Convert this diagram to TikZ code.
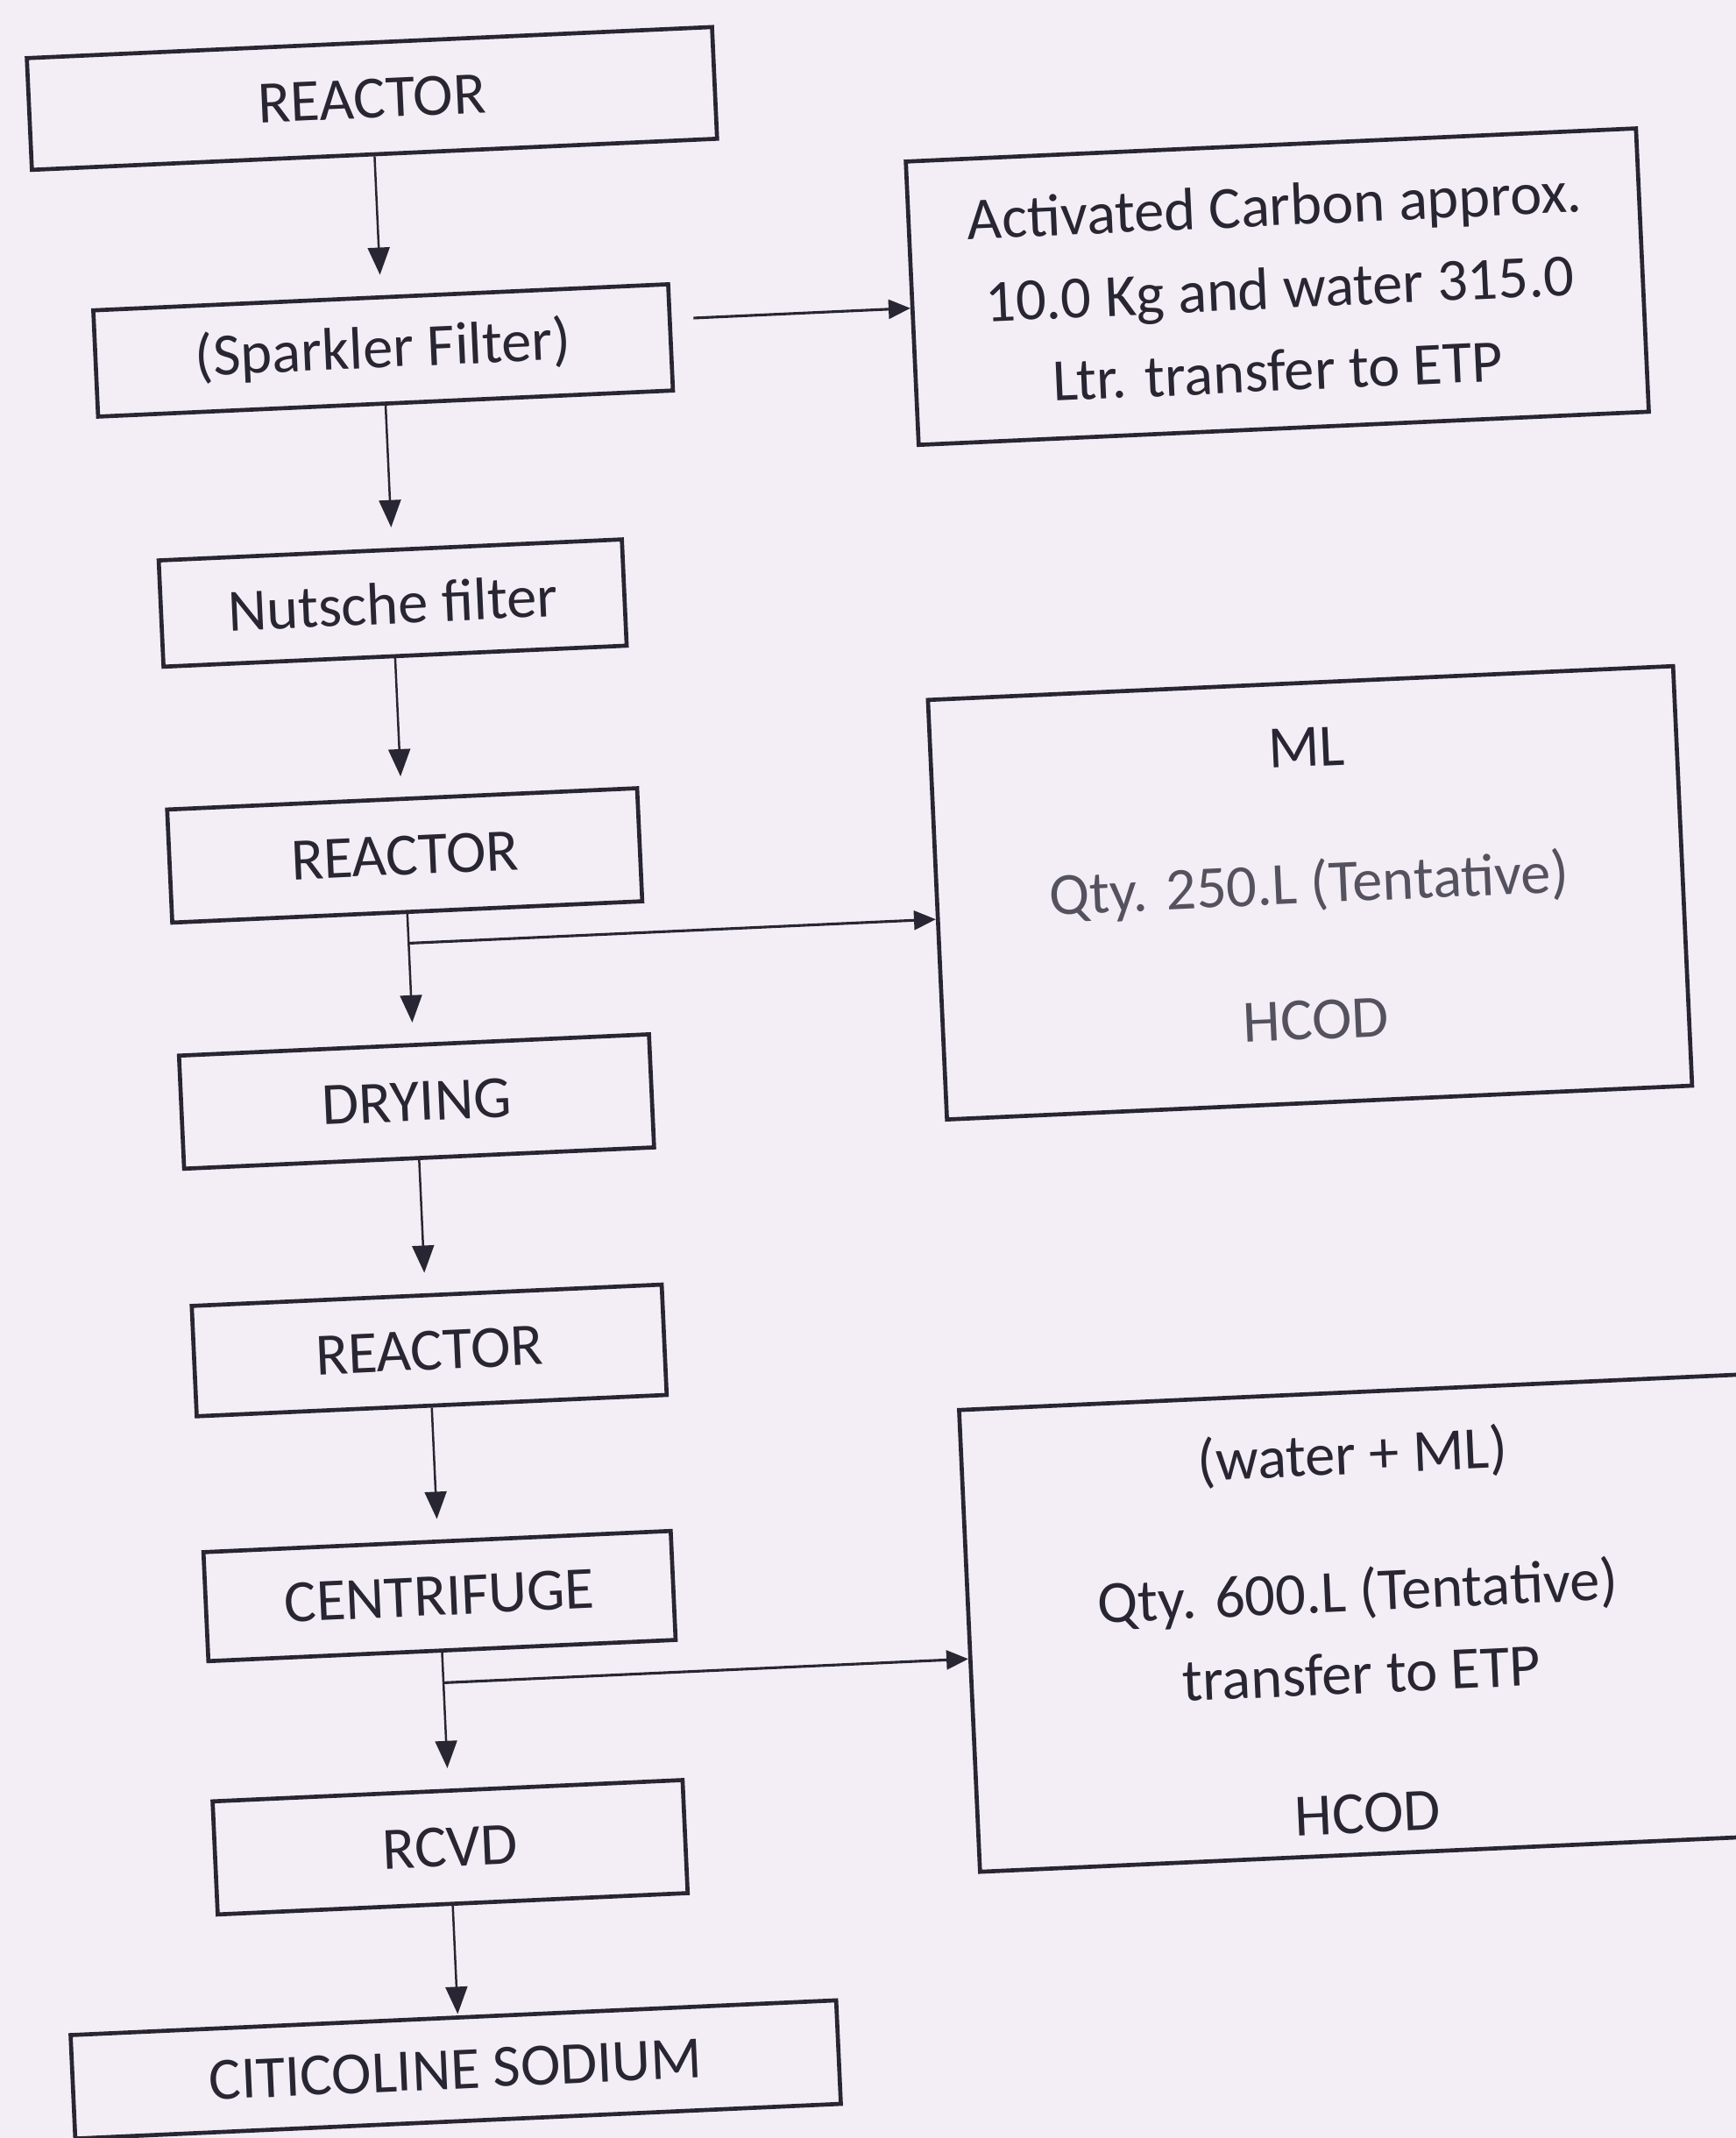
\documentclass[tikz,border=0pt]{standalone}
\usepackage{fontspec}
\setmainfont{Carlito}
\usetikzlibrary{arrows.meta}
\definecolor{paper}{RGB}{243,238,246}
\definecolor{ink}{RGB}{40,38,50}
\definecolor{softink}{RGB}{85,82,95}
\begin{document}
\begin{tikzpicture}[x=0.5pt,y=-0.5pt,
  box/.style={draw=ink,line width=1.5pt,rectangle,inner sep=0pt,
    font=\fontsize{22}{27}\selectfont,text=ink,transform shape},
  lbl/.style={font=\fontsize{22}{27}\selectfont,text=ink,inner sep=0pt,
    transform shape},
  soft/.style={lbl,text=softink},
  arr/.style={draw=ink,line width=0.8pt,-{Triangle[length=10pt,width=8pt]}},
  sidearr/.style={draw=ink,line width=1pt,-{Triangle[length=8pt,width=7pt]}},
]
\fill[paper] (0,0) rectangle (1273,1568);
\useasboundingbox (0,0) rectangle (1273,1568);
\begin{scope}
\clip (0,0) rectangle (1273,1568);
\begin{scope}[rotate around={2.6:(636.5,784)}]
  % main column
  \node[box,minimum width=251.5pt,minimum height=41pt]   (r1) at (305.4,56.4)  {REACTOR};
  \node[box,minimum width=211pt,minimum height=39pt]     (sf) at (305.2,241.4) {(Sparkler Filter)};
  \node[box,minimum width=170pt,minimum height=39pt]     (nf) at (303.8,426.8) {Nutsche filter};
  \node[box,minimum width=172.5pt,minimum height=41.5pt] (r2) at (304.2,612.1) {REACTOR};
  \node[box,minimum width=172.5pt,minimum height=41.5pt] (dr) at (304.7,792.8) {DRYING};
  \node[box,minimum width=172.5pt,minimum height=40.5pt] (r3) at (305.7,975.6) {REACTOR};
  \node[box,minimum width=171.5pt,minimum height=40pt]   (cf) at (305.1,1155.9) {CENTRIFUGE};
  \node[box,minimum width=172.5pt,minimum height=41.5pt] (rc) at (304.5,1340.3) {RCVD};
  \node[box,minimum width=281pt,minimum height=38pt]     (cs) at (301.2,1503.3) {CITICOLINE SODIUM};
  % side boxes
  \node[box,minimum width=268pt,minimum height=104pt]    (cb) at (962.4,224.4) {};
  \node[lbl] (cbt1) at (963,168) {Activated Carbon approx.};
  \node[lbl] (cbt2) at (964,229) {10.0 Kg and water 315.0};
  \node[lbl] (cbt3) at (960,286) {Ltr. transfer to ETP};
  \node[box,minimum width=273.5pt,minimum height=154pt]  (ml) at (966.2,669.6) {};
  \node[lbl]  (mlt1) at (968.4,562.8) {ML};
  \node[soft] (mlt2) at (965.8,664.8) {Qty. 250.L (Tentative)};
  \node[soft] (mlt3) at (966.3,762.9) {HCOD};
  \node[box,minimum width=299pt,minimum height=169.5pt]  (wm) at (990.9,1206.4) {};
  \node[lbl] (wmt1) at (978.7,1083.8) {(water + ML)};
  \node[lbl] (wmt2) at (978,1185) {Qty. 600.L (Tentative)};
  \node[lbl] (wmt3) at (978,1243) {transfer to ETP};
  \node[lbl] (wmt4) at (977.8,1346) {HCOD};
  % main arrows
  \draw[arr,shorten >=7.5pt] (r1.south) -- (r1.south |- sf.north);
  \draw[arr,shorten >=7.5pt] (sf.south) -- (sf.south |- nf.north);
  \draw[arr,shorten >=7.5pt] (nf.south) -- (nf.south |- r2.north);
  \draw[arr,shorten >=7.5pt] (r2.south) -- (r2.south |- dr.north);
  \draw[arr,shorten >=7.5pt] (dr.south) -- (dr.south |- r3.north);
  \draw[arr,shorten >=7.5pt] (r3.south) -- (r3.south |- cf.north);
  \draw[arr,shorten >=7.5pt] (cf.south) -- (cf.south |- rc.north);
  \draw[arr,shorten >=0.5pt] (rc.south) -- (rc.south |- cs.north);
  % side connectors
  \coordinate (s1) at (533.7,228);
  \draw[sidearr] (s1) -- (s1 -| cb.west);
  \coordinate (b1) at (304.2,676.6);
  \draw[sidearr] (b1) -- (b1 -| ml.west);
  \coordinate (b2) at (305.1,1219.6);
  \draw[sidearr] (b2) -- (b2 -| wm.west);
\end{scope}
\end{scope}
\end{tikzpicture}
\end{document}
